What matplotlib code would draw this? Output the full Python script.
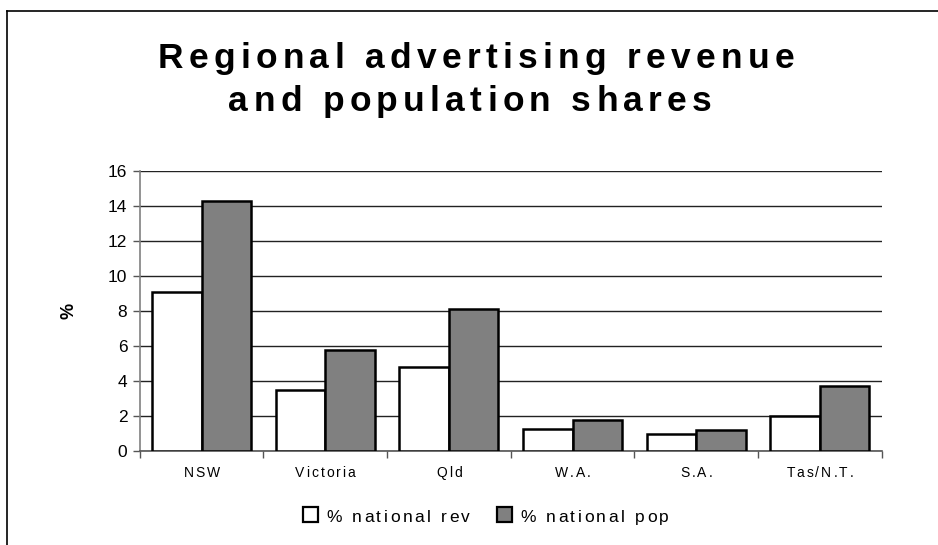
"""Grouped bars: regional share of national advertising revenue vs population."""

import matplotlib

matplotlib.use("Agg")
import matplotlib.pyplot as plt
import numpy as np
from matplotlib import font_manager
from matplotlib.ft2font import FT2Font
from matplotlib.lines import Line2D
from matplotlib.patches import Rectangle
from matplotlib.transforms import IdentityTransform

regions = ["NSW", "Victoria", "Qld", "W.A.", "S.A.", "Tas/N.T."]
rev_share = [9.1, 3.5, 4.8, 1.25, 0.95, 2.0]
pop_share = [14.3, 5.8, 8.1, 1.8, 1.2, 3.7]
series_names = ["% national rev", "% national pop"]
series_colors = ["white", "#808080"]
title_lines = ["Regional advertising revenue", "and population shares"]
y_ticks = [0, 2, 4, 6, 8, 10, 12, 14, 16]

plt.rcParams["font.family"] = ["Liberation Sans", "DejaVu Sans"]

W, H = 938, 545
TITLE_FONT = font_manager.FontProperties(family="Liberation Sans", weight="bold", size=25.5)
LABEL_FONT = font_manager.FontProperties(family="Liberation Sans", size=10)
LEGEND_FONT = font_manager.FontProperties(family="Liberation Sans", size=12.5)


def glyph_advances(text, prop, dpi):
    font = FT2Font(font_manager.findfont(prop))
    font.set_size(prop.get_size_in_points(), dpi)
    return [font.load_char(ord(ch)).linearHoriAdvance / 65536 for ch in text]


def tracked_width(text, prop, tracking, dpi):
    adv = glyph_advances(text, prop, dpi)
    return sum(adv) + tracking * (len(text) - 1)


def draw_tracked(fig, text, x, y, prop, tracking, ha="center"):
    """Draw text glyph by glyph in pixel coords (y from top), with extra spacing."""
    adv = glyph_advances(text, prop, fig.dpi)
    total = sum(adv) + tracking * (len(text) - 1)
    pen = x - total / 2 if ha == "center" else x
    for ch, a in zip(text, adv):
        if ch != " ":
            fig.text(pen, H - y, ch, fontproperties=prop, ha="left", va="baseline",
                     transform=IdentityTransform())
        pen += a + tracking
    return total


def main() -> None:
    fig = plt.figure(figsize=(W / 100, H / 100), dpi=100)
    ax = fig.add_axes([0.149, 0.1725, 0.791, 0.5133])

    x = np.arange(len(regions))
    width = 0.4
    for offset, values, color in zip((-width / 2, width / 2), (rev_share, pop_share),
                                     series_colors):
        ax.bar(x + offset, values, width, color=color, edgecolor="black",
               linewidth=1.8, zorder=3)

    ax.set_xlim(-0.5, len(regions) - 0.5)
    ax.set_ylim(0, 16)
    ax.set_yticks(y_ticks)
    ax.set_yticklabels([str(t) for t in y_ticks], fontsize=12.5)
    ax.yaxis.grid(True, color="#222222", linewidth=1.0, zorder=0)
    ax.set_axisbelow(True)

    # boundary ticks between categories; names drawn separately below
    ax.set_xticks(np.arange(len(regions) + 1) - 0.5)
    ax.set_xticklabels([])
    ax.tick_params(axis="x", length=5, color="#555555", width=1)
    ax.tick_params(axis="y", length=5, color="#555555", width=1, pad=4)

    for side in ("top", "right"):
        ax.spines[side].set_visible(False)
    ax.spines["left"].set_color("#808080")
    ax.spines["bottom"].set_color("#555555")
    ax.spines["left"].set_linewidth(1.2)
    ax.spines["bottom"].set_linewidth(1.2)

    ax.set_ylabel("%", fontsize=13, fontweight="bold", labelpad=22)

    for i, name in enumerate(regions):
        px = ax.transData.transform((i, 0))[0]
        draw_tracked(fig, name, px, 477, LABEL_FONT, 2.0)

    # spaced-out title
    draw_tracked(fig, title_lines[0], 476, 68, TITLE_FONT, 5.3)
    draw_tracked(fig, title_lines[1], 470, 111, TITLE_FONT, 5.3)

    # legend: square swatch + spaced label per series
    box, gap, col_gap, text_track = 15, 8, 27, 2.6
    widths = [tracked_width(s, LEGEND_FONT, text_track, fig.dpi) for s in series_names]
    total = sum(box + gap + w for w in widths) + col_gap * (len(widths) - 1)
    left = 486 - total / 2
    base = 522
    for name, color, w in zip(series_names, series_colors, widths):
        fig.add_artist(Rectangle((left, H - base), box, box, facecolor=color,
                                 edgecolor="black", linewidth=1.6,
                                 transform=IdentityTransform()))
        draw_tracked(fig, name, left + box + gap, base, LEGEND_FONT, text_track, ha="left")
        left += box + gap + w + col_gap

    # chart-area frame, open at right and bottom
    fig.add_artist(Line2D([7 / W, 7 / W], [0, 1 - 11 / H], color="black",
                          linewidth=1.2, transform=fig.transFigure))
    fig.add_artist(Line2D([7 / W, 1], [1 - 11 / H, 1 - 11 / H], color="black",
                          linewidth=1.2, transform=fig.transFigure))

    fig.savefig("out.png", dpi=100, facecolor="white")


if __name__ == "__main__":
    main()
